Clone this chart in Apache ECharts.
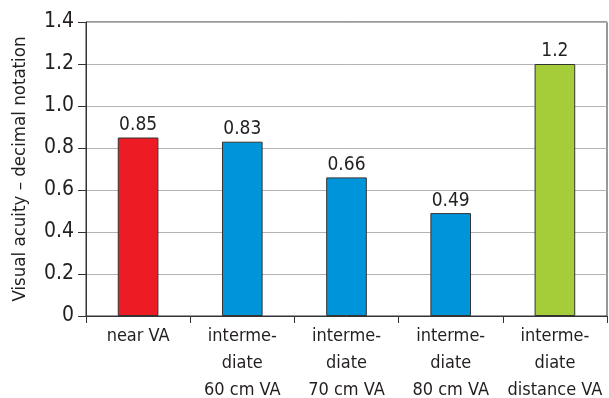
<!DOCTYPE html>
<html>
<head>
<meta charset="utf-8">
<script src="https://cdn.jsdelivr.net/npm/echarts@6/dist/echarts.min.js"></script>
<style>
  html, body { margin: 0; padding: 0; background: #fff; }
  #chart { width: 609px; height: 398px; }
</style>
</head>
<body>
<div id="chart"></div>
<script>
const categories = [
  'near VA',
  'interme-\ndiate\n60 cm VA',
  'interme-\ndiate\n70 cm VA',
  'interme-\ndiate\n80 cm VA',
  'interme-\ndiate\ndistance VA'
];
const values = [0.85, 0.83, 0.66, 0.49, 1.2];
const valueLabels = ['0.85', '0.83', '0.66', '0.49', '1.2'];
const barColors = ['#ED1C24', '#0095DA', '#0095DA', '#0095DA', '#A5CD39'];

// no condensed Myriad here, DejaVu Sans Condensed is the closest one installed
const fontFamily = '"DejaVu Sans Condensed", sans-serif';
const textColor = '#231F20';

const chart = echarts.init(document.getElementById('chart'));

const option = {
  animation: false,
  grid: {
    left: 86,
    right: 2,
    top: 22,
    bottom: 82,
    outerBoundsMode: 'none',
    show: true,
    borderColor: '#333',
    borderWidth: 1
  },
  xAxis: {
    type: 'category',
    data: categories,
    axisLine: { lineStyle: { color: '#333', width: 1 } },
    axisTick: { show: true, length: 7, lineStyle: { color: '#333' } },
    axisLabel: {
      color: textColor,
      fontFamily: fontFamily,
      fontSize: 18,
      lineHeight: 27,
      margin: 7,
      interval: 0
    }
  },
  yAxis: {
    type: 'value',
    min: 0,
    max: 1.4,
    interval: 0.2,
    name: 'Visual acuity \u2013 decimal notation',
    nameLocation: 'middle',
    nameGap: 56,
    nameTextStyle: {
      color: textColor,
      fontFamily: fontFamily,
      fontSize: 18.5
    },
    axisLine: { show: true, lineStyle: { color: '#333', width: 1 } },
    axisTick: { show: true, length: 8, lineStyle: { color: '#333' } },
    splitLine: { lineStyle: { color: '#B3B3B3', width: 1 } },
    axisLabel: {
      color: textColor,
      fontFamily: fontFamily,
      fontSize: 21,
      margin: 12,
      formatter: v => (v === 0 ? '0' : v.toFixed(1))
    }
  },
  series: [
    {
      type: 'bar',
      barWidth: '39%',
      data: values.map((v, i) => ({
        value: v,
        itemStyle: { color: barColors[i] }
      })),
      itemStyle: {
        borderColor: '#333',
        borderWidth: 1
      },
      label: {
        show: true,
        position: 'top',
        distance: 3,
        color: textColor,
        fontFamily: fontFamily,
        fontSize: 19,
        formatter: p => valueLabels[p.dataIndex]
      }
    }
  ]
};

chart.setOption(option);
</script>
</body>
</html>
